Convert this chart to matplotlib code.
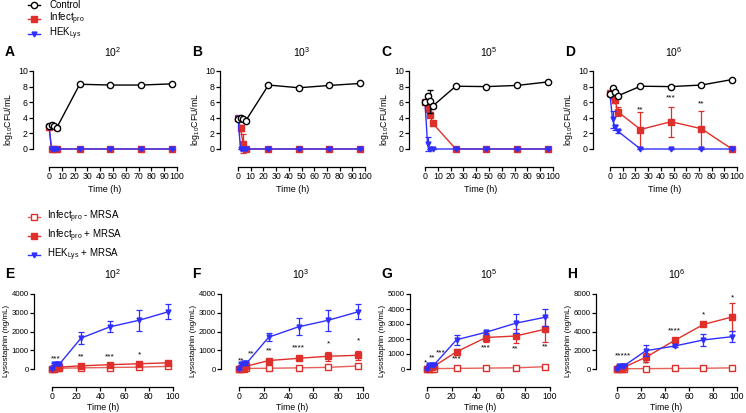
import numpy as np
import matplotlib
matplotlib.use("Agg")
import matplotlib.pyplot as plt
from matplotlib.lines import Line2D

plt.rcParams['font.family'] = ['Liberation Sans', 'DejaVu Sans']
plt.rcParams['mathtext.fontset'] = 'custom'
plt.rcParams['mathtext.rm'] = 'Liberation Sans'
plt.rcParams['mathtext.it'] = 'Liberation Sans:italic'

RED = '#df2f2a'
RED_L = '#e66058'
BLUE = '#2f2fff'

# ---- top row: bacterial counts (log10 CFU/mL) ----
t_top = [0, 2, 4, 6, 24, 48, 72, 96]
top_titles = ['10$^2$', '10$^3$', '10$^5$', '10$^6$']
top_letters = ['A', 'B', 'C', 'D']

ctrl = [[3.0, 3.05, 2.9, 2.7, 8.3, 8.2, 8.2, 8.35],
        [3.9, 4.0, 3.8, 3.6, 8.2, 7.85, 8.15, 8.4],
        [6.0, 6.8, 6.1, 5.5, 8.05, 8.0, 8.15, 8.6],
        [7.0, 7.8, 7.3, 6.8, 8.05, 8.0, 8.2, 8.9]]
ctrl_err = [[0.1, 0.1, 0.1, 0.2, 0, 0, 0, 0],
            [0.1, 0.1, 0.2, 0.2, 0, 0, 0, 0],
            [0.2, 0.3, 1.5, 0.2, 0, 0, 0, 0],
            [0.2, 0.2, 0.3, 0.3, 0, 0, 0, 0]]
infect = [[2.8, 0, 0, 0, 0, 0, 0, 0],
          [4.0, 2.7, 0.7, 0, 0, 0, 0, 0],
          [6.0, 5.3, 4.4, 3.3, 0, 0, 0, 0],
          [7.2, 6.8, 6.3, 4.8, 2.5, 3.5, 2.6, 0]]
infect_err = [[0.1, 0, 0, 0, 0, 0, 0, 0],
              [0.1, 0.4, 1.2, 0, 0, 0, 0, 0],
              [0.1, 0.5, 0.3, 0.2, 0, 0, 0, 0],
              [0.2, 0.3, 0.4, 0.6, 2.2, 1.9, 2.3, 0]]
hek = [[3.0, 0, 0, 0, 0, 0, 0, 0],
       [4.0, 0, 0, 0, 0, 0, 0, 0],
       [6.0, 0.6, 0, 0, 0, 0, 0, 0],
       [7.0, 3.8, 2.8, 2.3, 0, 0, 0, 0]]
hek_err = [[0, 0, 0, 0, 0, 0, 0, 0],
           [0, 0, 0, 0, 0, 0, 0, 0],
           [0, 0.9, 0, 0, 0, 0, 0, 0],
           [0.2, 1.1, 0.3, 0.2, 0, 0, 0, 0]]
top_stars = [[], [], [],
             [(24, 5.0, '**'), (48, 6.5, '***'), (72, 5.8, '**')]]

# ---- bottom row: lysostaphin (ng/mL) ----
t_bot = [0, 2, 4, 6, 24, 48, 72, 96]
bot_titles = ['10$^2$', '10$^3$', '10$^5$', '10$^6$']
bot_letters = ['E', 'F', 'G', 'H']
bot_ymax = [4000, 4000, 5000, 8000]

open_red = [[0, 20, 30, 40, 60, 80, 100, 140],
            [0, 10, 20, 30, 40, 60, 90, 160],
            [0, 10, 20, 30, 40, 60, 80, 150],
            [0, 10, 20, 30, 40, 60, 80, 120]]
open_red_err = [[0, 0, 0, 0, 20, 20, 30, 30],
                [0, 0, 0, 0, 20, 20, 30, 30],
                [0, 0, 0, 0, 20, 20, 30, 30],
                [0, 0, 0, 0, 20, 20, 30, 30]]
full_red = [[0, 50, 80, 100, 170, 230, 280, 330],
            [0, 50, 100, 150, 450, 570, 680, 730],
            [0, 100, 150, 200, 1150, 2100, 2200, 2650],
            [0, 100, 150, 200, 1250, 3050, 4750, 5550]]
full_red_err = [[0, 20, 20, 30, 60, 60, 80, 80],
                [0, 20, 30, 30, 100, 60, 250, 250],
                [0, 30, 40, 50, 200, 300, 450, 850],
                [0, 30, 40, 50, 500, 250, 200, 1500]]
blue_lys = [[0, 250, 250, 250, 1650, 2250, 2600, 3050],
            [0, 250, 300, 300, 1700, 2250, 2600, 3050],
            [0, 300, 300, 300, 1950, 2450, 3050, 3450],
            [0, 300, 350, 350, 1950, 2450, 3100, 3450]]
blue_lys_err = [[0, 60, 60, 60, 300, 300, 550, 400],
                [0, 60, 60, 60, 200, 450, 550, 400],
                [0, 60, 60, 60, 350, 100, 650, 550],
                [0, 60, 60, 60, 600, 150, 600, 600]]
bot_stars = [[(3, 560, '***'), (24, 640, '**'), (48, 640, '***'), (72, 760, '*')],
             [(2, 430, '**'), (10, 820, '**'), (24, 950, '**'), (48, 1100, '****'),
              (72, 1350, '*'), (96, 1480, '*')],
             [(-1, 420, '*'), (4, 760, '**'), (11, 1080, '***'), (24, 660, '***'), (48, 1390, '***'),
              (72, 1350, '**'), (96, 1500, '**')],
             [(5, 1400, '*****'), (24, 530, '**'), (48, 4070, '****'), (72, 5770, '*'), (96, 7600, '*')]]

W, H = 746, 413
fig = plt.figure(figsize=(W / 100, H / 100), dpi=100)


def make_axes(spine, x0, x100, ytop, y0, xaxis, ymax):
    ax = fig.add_axes([spine / W, (H - xaxis) / H, (x100 - spine) / W, (xaxis - ytop) / H])
    ax.set_xlim(-(x0 - spine) / (x100 - x0) * 100, 100)
    ax.set_ylim(-(xaxis - y0) / (y0 - ytop) * ymax, ymax)
    ax.spines['top'].set_visible(False)
    ax.spines['right'].set_visible(False)
    ax.spines['left'].set_bounds(0, ymax)
    ax.spines['bottom'].set_bounds(0, 100)
    for s in ('left', 'bottom'):
        ax.spines[s].set_linewidth(0.9)
    ax.tick_params(length=3, width=0.9, pad=0.8)
    ax.patch.set_alpha(0)
    return ax


def eb(ax, x, y, e, **kw):
    ax.errorbar(x, y, yerr=e, capsize=2, elinewidth=0.9, capthick=0.9,
                lw=1.0, clip_on=False, **kw)


top_spine = [33, 220, 409, 593]
top_x0 = [49, 238, 425, 610]
top_x100 = [177, 365, 553, 737]
for i in range(4):
    ax = make_axes(top_spine[i], top_x0[i], top_x100[i], 71, 149, 167, 10)
    eb(ax, t_top, infect[i], infect_err[i], color=RED, marker='s', ms=3.8, zorder=3)
    eb(ax, t_top, hek[i], hek_err[i], color=BLUE, marker='v', ms=3.5, zorder=4)
    eb(ax, t_top, ctrl[i], ctrl_err[i], color='black', marker='o', ms=4.5,
       mfc='white', mew=1.0, zorder=5)
    for (xs, ys, s) in top_stars[i]:
        ax.text(xs, ys, s, ha='center', va='center', fontsize=6)
    ax.set_yticks(np.arange(0, 11, 2))
    ax.set_xticks(np.arange(0, 101, 10))
    ax.tick_params(labelsize=6.3)
    ax.set_ylabel('log$_{10}$CFU/mL', fontsize=6.3, labelpad=2)
    ax.set_xlabel('Time (h)', fontsize=6.5, labelpad=3)
    fig.text((top_x0[i] + top_x100[i]) / 2 / W, 1 - 52 / H, top_titles[i],
             ha='center', va='center', fontsize=7.5)
    fig.text((top_spine[i] - 28) / W, 1 - 52 / H, top_letters[i],
             ha='left', va='center', fontsize=10, fontweight='bold')

bot_spine = [34, 221, 410, 596]
bot_x0 = [52, 239, 427, 617]
bot_x100 = [173, 363, 550, 737]
for i in range(4):
    ax = make_axes(bot_spine[i], bot_x0[i], bot_x100[i], 294, 369, 387, bot_ymax[i])
    eb(ax, t_bot, open_red[i], open_red_err[i], color=RED_L, marker='s', ms=4,
       mfc='white', mec=RED, mew=1.0, zorder=3)
    eb(ax, t_bot, full_red[i], full_red_err[i], color=RED, marker='s', ms=4, zorder=4)
    eb(ax, t_bot, blue_lys[i], blue_lys_err[i], color=BLUE, marker='v', ms=3.5, zorder=5)
    for (xs, ys, s) in bot_stars[i]:
        ax.text(xs, ys, s, ha='center', va='center', fontsize=6)
    step = 2000 if bot_ymax[i] == 8000 else 1000
    ax.set_yticks(np.arange(0, bot_ymax[i] + 1, step))
    ax.set_xticks(np.arange(0, 101, 20))
    ax.tick_params(axis='y', labelsize=5.6)
    ax.tick_params(axis='x', labelsize=6.2)
    ax.set_ylabel('Lysostaphin (ng/mL)', fontsize=5.8, labelpad=1.5)
    ax.set_xlabel('Time (h)', fontsize=6.3, labelpad=1.5)
    fig.text((bot_x0[i] + bot_x100[i]) / 2 / W, 1 - 274 / H, bot_titles[i],
             ha='center', va='center', fontsize=7.5)
    fig.text((bot_spine[i] - 29) / W, 1 - 274 / H, bot_letters[i],
             ha='left', va='center', fontsize=10, fontweight='bold')


# manual legends, GraphPad style
def legend_row(ypx, label, text_x, **style):
    y = 1 - ypx / H
    fig.add_artist(Line2D([28 / W, 34 / W, 40 / W], [y, y, y], transform=fig.transFigure,
                          markevery=[1], lw=1.0, **style))
    fig.text(text_x / W, y, label, ha='left', va='center', fontsize=7)


top_labels = ['Control', 'Infect$_{\\mathrm{pro}}$', 'HEK$_{\\mathrm{Lys}}$']
top_rows = [5, 19, 34]
legend_row(top_rows[0], top_labels[0], 49, color='black', marker='o', ms=4.5, mfc='white', mew=1.0)
legend_row(top_rows[1], top_labels[1], 49, color=RED, marker='s', ms=3.8)
legend_row(top_rows[2], top_labels[2], 49, color=BLUE, marker='v', ms=3.5)

bot_labels = ['Infect$_{\\mathrm{pro}}$ - MRSA', 'Infect$_{\\mathrm{pro}}$ + MRSA',
              'HEK$_{\\mathrm{Lys}}$ + MRSA']
bot_rows = [217, 236, 255]
legend_row(bot_rows[0], bot_labels[0], 47, color=RED_L, marker='s', ms=4, mfc='white', mec=RED, mew=1.0)
legend_row(bot_rows[1], bot_labels[1], 47, color=RED, marker='s', ms=4)
legend_row(bot_rows[2], bot_labels[2], 47, color=BLUE, marker='v', ms=3.5)

fig.savefig('out.png', dpi=100)
